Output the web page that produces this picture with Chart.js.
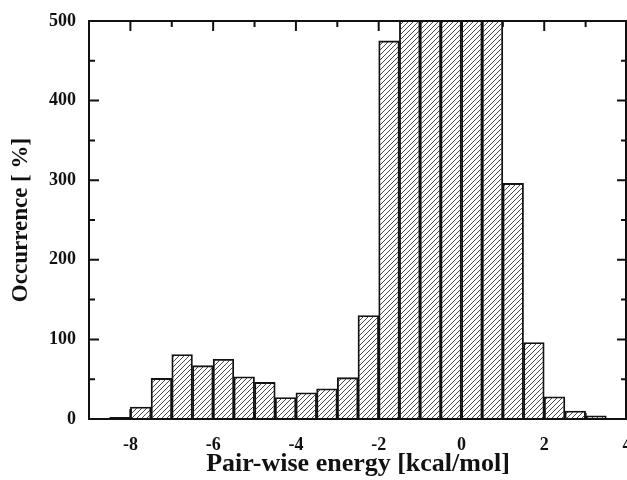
<!DOCTYPE html>
<html lang="en">
<head>
    <meta charset="UTF-8">
    <title>Pair-wise energy histogram</title>
    <script src="https://cdn.jsdelivr.net/npm/chart.js"></script>
    <style>
        body { margin: 0; background: #fff; }
    </style>
</head>
<body>
    <canvas id="myChart" width="627" height="480"></canvas>

    <script>
        // bin centres (kcal/mol), bins are 0.5 wide
        const binCenters = [-8.25, -7.75, -7.25, -6.75, -6.25, -5.75, -5.25, -4.75, -4.25, -3.75, -3.25, -2.75,
                            -2.25, -1.75, -1.25, -0.75, -0.25, 0.25, 0.75, 1.25, 1.75, 2.25, 2.75, 3.25];
        // occurrence, the central bins run off the top of the plot
        const occurrence = [2, 15, 51, 81, 67, 75, 53, 46, 27, 33, 38, 52,
                            130, 475, 640, 820, 900, 780, 560, 296, 96, 28, 10, 4];
        const xRange = [-9, 4];
        const yRange = [0, 500];
        const xTickStep = 2;
        const yTickStep = 100;

        const ink = '#111';
        const font = 'Liberation Serif';

        // diagonal hatch used to fill the bars
        function hatch() {
            const s = 5;
            const c = document.createElement('canvas');
            c.width = s; c.height = s;
            const g = c.getContext('2d');
            g.strokeStyle = '#333';
            g.lineWidth = 0.9;
            g.beginPath();
            g.moveTo(0, s); g.lineTo(s, 0);
            g.moveTo(-1, 1); g.lineTo(1, -1);
            g.moveTo(s - 1, s + 1); g.lineTo(s + 1, s - 1);
            g.stroke();
            return document.getElementById('myChart').getContext('2d').createPattern(c, 'repeat');
        }

        // frame plus inward ticks on all four sides
        const framePlugin = {
            id: 'frame',
            afterDraw(chart) {
                const ctx = chart.ctx;
                const a = chart.chartArea;
                const x = chart.scales.x, y = chart.scales.y;
                ctx.save();
                ctx.strokeStyle = ink;
                ctx.lineWidth = 2;
                ctx.beginPath();
                for (let v = Math.ceil(x.min); v <= x.max; v++) {
                    const px = x.getPixelForValue(v);
                    const len = v % xTickStep === 0 ? 10 : 6;
                    ctx.moveTo(px, a.bottom); ctx.lineTo(px, a.bottom - len);
                    ctx.moveTo(px, a.top); ctx.lineTo(px, a.top + len);
                }
                for (let v = y.min; v <= y.max; v += yTickStep / 2) {
                    const py = y.getPixelForValue(v);
                    const len = v % yTickStep === 0 ? 10 : 6;
                    ctx.moveTo(a.left, py); ctx.lineTo(a.left + len, py);
                    ctx.moveTo(a.right, py); ctx.lineTo(a.right - len, py);
                }
                ctx.stroke();
                ctx.strokeRect(a.left, a.top, a.right - a.left - 1, a.bottom - a.top);
                ctx.restore();
            }
        };

        const chartData = {
            datasets: [{
                data: binCenters.map((c, i) => ({ x: c, y: occurrence[i] })),
                backgroundColor: hatch(),
                borderColor: ink,
                borderWidth: 1.2,
                barPercentage: 1,
                categoryPercentage: 1
            }]
        };

        const chartConfig = {
            type: 'bar',
            data: chartData,
            options: {
                responsive: false,
                animation: false,
                devicePixelRatio: 1,
                layout: { padding: { top: 21, right: 0, left: 0, bottom: 0 } },
                plugins: { legend: { display: false }, tooltip: { enabled: false } },
                scales: {
                    x: {
                        type: 'linear',
                        offset: false,
                        min: xRange[0],
                        max: xRange[1],
                        grid: { display: false, drawTicks: false },
                        border: { display: false },
                        ticks: {
                            stepSize: xTickStep,
                            includeBounds: false,
                            padding: 16,
                            color: ink,
                            maxRotation: 0,
                            font: { family: font, size: 18, weight: 'bold' }
                        },
                        title: {
                            display: true,
                            text: 'Pair-wise energy [kcal/mol]',
                            color: ink,
                            padding: 0,
                            font: { family: font, size: 26, weight: 'bold' }
                        },
                        afterFit(scale) {
                            scale.height = 61;
                            scale.paddingLeft = 0;
                            scale.paddingRight = 0;
                        }
                    },
                    y: {
                        min: yRange[0],
                        max: yRange[1],
                        grid: { display: false, drawTicks: false },
                        border: { display: false },
                        ticks: {
                            stepSize: yTickStep,
                            padding: 13,
                            color: ink,
                            font: { family: font, size: 18, weight: 'bold' }
                        },
                        title: {
                            display: true,
                            text: 'Occurrence [ %]',
                            color: ink,
                            padding: { top: 7, bottom: 0 },
                            font: { family: font, size: 23, weight: 'bold' }
                        },
                        afterFit(scale) {
                            scale.width = 89;
                            scale.paddingTop = 0;
                            scale.paddingBottom = 0;
                        }
                    }
                }
            },
            plugins: [framePlugin]
        };

        const myChart = new Chart(document.getElementById('myChart'), chartConfig);
    </script>
</body>
</html>
